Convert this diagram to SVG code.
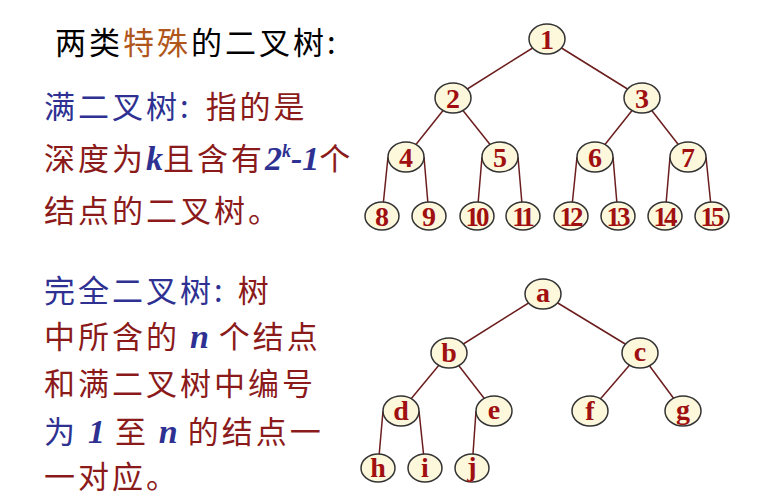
<svg xmlns="http://www.w3.org/2000/svg" width="769" height="500" viewBox="0 0 769 500">
<style>
.e{stroke:#6b1d1d;stroke-width:1.5}
.n ellipse{fill:#fdf7dc;stroke:#333;stroke-width:1.5}
.n text{font-family:"Liberation Serif",serif;font-weight:bold;font-size:28px;fill:#a01010;text-anchor:middle}
.n text.d{letter-spacing:-3px;font-size:27px}
.t{font-family:"Noto Sans CJK SC",sans-serif;font-size:31px;letter-spacing:3px}
.r{fill:#8b1a1a}.b{fill:#2e3192}.k{fill:#000}
.m{font-family:"Liberation Serif",serif;font-weight:bold;font-style:italic;letter-spacing:0}
</style>
<rect width="769" height="500" fill="#fff"/>
<text class="t k" x="55" y="54" font-size="32">两类<tspan fill="#b0561a">特殊</tspan>的二叉树:</text>
<text class="t" x="44" y="118"><tspan class="b">满二叉树:</tspan><tspan class="r" dx="14">指的是</tspan></text>
<text class="t r" x="44" y="170">深度为<tspan class="m b" font-size="34">k</tspan>且含有<tspan class="m b" font-size="34">2</tspan><tspan class="m b" font-size="18" dy="-13">k</tspan><tspan class="m b" font-size="34" dy="13">-1</tspan>个</text>
<text class="t r" x="44" y="222">结点的二叉树。</text>
<text class="t" x="44" y="302"><tspan class="b">完全二叉树:</tspan><tspan class="r" dx="12">树</tspan></text>
<text class="t r" x="44" y="348">中所含的 <tspan class="m b" font-size="34">n</tspan> 个结点</text>
<text class="t r" x="44" y="395">和满二叉树中编号</text>
<text class="t r" x="44" y="443"><tspan class="b">为 </tspan><tspan class="m b" font-size="34">1</tspan> 至 <tspan class="m b" font-size="34">n</tspan> 的结点一</text>
<text class="t r" x="44" y="488">一对应。</text>
<g id="edges">
<line class="e" x1="547" y1="39" x2="453" y2="98"/><line class="e" x1="547" y1="39" x2="642" y2="98"/>
<line class="e" x1="453" y1="98" x2="406" y2="157"/><line class="e" x1="453" y1="98" x2="500" y2="157"/>
<line class="e" x1="642" y1="98" x2="595" y2="157"/><line class="e" x1="642" y1="98" x2="688" y2="157"/>
<line class="e" x1="388" y1="157" x2="382" y2="216"/><line class="e" x1="424" y1="157" x2="429" y2="216"/>
<line class="e" x1="482" y1="157" x2="477" y2="216"/><line class="e" x1="518" y1="157" x2="523" y2="216"/>
<line class="e" x1="577" y1="157" x2="571" y2="216"/><line class="e" x1="613" y1="157" x2="618" y2="216"/>
<line class="e" x1="670" y1="157" x2="665" y2="216"/><line class="e" x1="706" y1="157" x2="712" y2="216"/>
<line class="e" x1="543" y1="294" x2="449" y2="353"/><line class="e" x1="543" y1="294" x2="640" y2="353"/>
<line class="e" x1="449" y1="353" x2="401" y2="411"/><line class="e" x1="449" y1="353" x2="494" y2="411"/>
<line class="e" x1="640" y1="353" x2="590" y2="411"/><line class="e" x1="640" y1="353" x2="683" y2="411"/>
<line class="e" x1="383" y1="411" x2="378" y2="468"/><line class="e" x1="419" y1="411" x2="425" y2="468"/>
<line class="e" x1="476" y1="411" x2="472" y2="468"/>
</g>
<g id="n1" class="n"><ellipse cx="547" cy="39" rx="18" ry="15"/><text x="547" y="49">1</text></g>
<g id="n2" class="n"><ellipse cx="453" cy="98" rx="18" ry="15"/><text x="453" y="108">2</text></g>
<g id="n3" class="n"><ellipse cx="642" cy="98" rx="18" ry="15"/><text x="642" y="108">3</text></g>
<g id="n4" class="n"><ellipse cx="406" cy="157" rx="18" ry="15"/><text x="406" y="167">4</text></g>
<g id="n5" class="n"><ellipse cx="500" cy="157" rx="18" ry="15"/><text x="500" y="167">5</text></g>
<g id="n6" class="n"><ellipse cx="595" cy="157" rx="18" ry="15"/><text x="595" y="167">6</text></g>
<g id="n7" class="n"><ellipse cx="688" cy="157" rx="18" ry="15"/><text x="688" y="167">7</text></g>
<g id="n8" class="n"><ellipse cx="382" cy="216" rx="17" ry="14"/><text x="382" y="226">8</text></g>
<g id="n9" class="n"><ellipse cx="429" cy="216" rx="17" ry="14"/><text x="429" y="226">9</text></g>
<g id="n10" class="n"><ellipse cx="477" cy="216" rx="17" ry="14"/><text class="d" x="476" y="226">10</text></g>
<g id="n11" class="n"><ellipse cx="523" cy="216" rx="17" ry="14"/><text class="d" x="522" y="226">11</text></g>
<g id="n12" class="n"><ellipse cx="571" cy="216" rx="17" ry="14"/><text class="d" x="570" y="226">12</text></g>
<g id="n13" class="n"><ellipse cx="618" cy="216" rx="17" ry="14"/><text class="d" x="617" y="226">13</text></g>
<g id="n14" class="n"><ellipse cx="665" cy="216" rx="17" ry="14"/><text class="d" x="664" y="226">14</text></g>
<g id="n15" class="n"><ellipse cx="712" cy="216" rx="17" ry="14"/><text class="d" x="711" y="226">15</text></g>
<g id="na" class="n"><ellipse cx="543" cy="294" rx="18" ry="15"/><text x="543" y="302">a</text></g>
<g id="nb" class="n"><ellipse cx="449" cy="353" rx="18" ry="15"/><text x="449" y="362">b</text></g>
<g id="nc" class="n"><ellipse cx="640" cy="353" rx="18" ry="15"/><text x="640" y="361">c</text></g>
<g id="nd" class="n"><ellipse cx="401" cy="411" rx="18" ry="15"/><text x="401" y="420">d</text></g>
<g id="ne" class="n"><ellipse cx="494" cy="411" rx="18" ry="15"/><text x="494" y="419">e</text></g>
<g id="nf" class="n"><ellipse cx="590" cy="411" rx="18" ry="15"/><text x="590" y="420">f</text></g>
<g id="ng" class="n"><ellipse cx="683" cy="411" rx="18" ry="15"/><text x="683" y="419">g</text></g>
<g id="nh" class="n"><ellipse cx="378" cy="468" rx="17" ry="14"/><text x="378" y="477">h</text></g>
<g id="ni" class="n"><ellipse cx="425" cy="468" rx="17" ry="14"/><text x="425" y="477">i</text></g>
<g id="nj" class="n"><ellipse cx="472" cy="468" rx="17" ry="14"/><text x="472" y="476">j</text></g>
</svg>
